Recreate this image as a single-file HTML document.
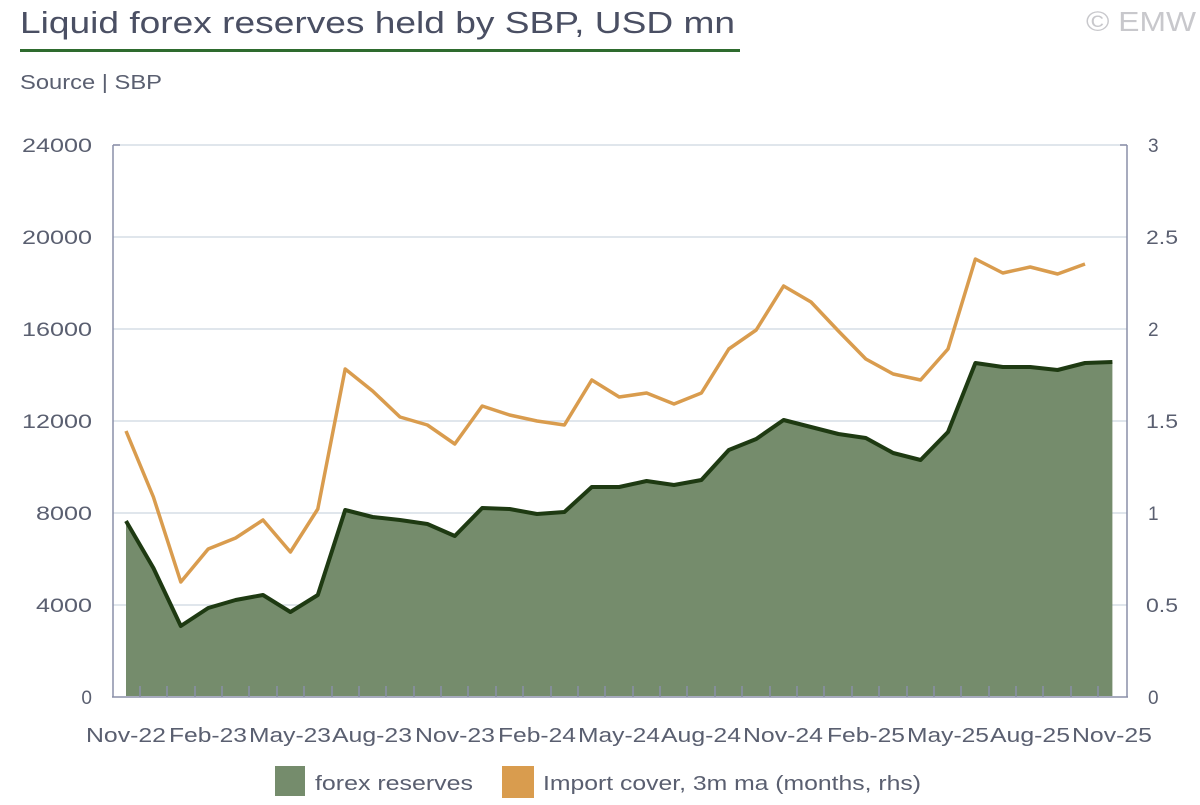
<!DOCTYPE html>
<html><head><meta charset="utf-8"><style>
body{margin:0;background:#fff;width:1200px;height:800px;overflow:hidden;font-family:"Liberation Sans",sans-serif}
</style></head><body>
<svg width="1200" height="800" xmlns="http://www.w3.org/2000/svg" font-family="Liberation Sans, sans-serif">
<text x="20" y="33" font-size="31" fill="#4a4f63" textLength="715" lengthAdjust="spacingAndGlyphs">Liquid forex reserves held by SBP, USD mn</text>
<rect x="20" y="49" width="720" height="3" fill="#2e6b2e"/>
<text x="1086" y="31" font-size="28" fill="#c8c8cc" textLength="110" lengthAdjust="spacingAndGlyphs">© EMW</text>
<text x="20" y="89" font-size="20" fill="#5a5f70" textLength="142" lengthAdjust="spacingAndGlyphs">Source | SBP</text>
<g stroke="#d5dee6" stroke-width="1.5">
<line x1="113" y1="145" x2="1127" y2="145"/><line x1="113" y1="237" x2="1127" y2="237"/>
<line x1="113" y1="329" x2="1127" y2="329"/><line x1="113" y1="421" x2="1127" y2="421"/>
<line x1="113" y1="513" x2="1127" y2="513"/><line x1="113" y1="605" x2="1127" y2="605"/>
</g>
<g font-size="19" fill="#5a5f70" text-anchor="end">
<text x="92" y="152" textLength="70" lengthAdjust="spacingAndGlyphs">24000</text><text x="92" y="244" textLength="70" lengthAdjust="spacingAndGlyphs">20000</text><text x="92" y="336" textLength="70" lengthAdjust="spacingAndGlyphs">16000</text>
<text x="92" y="428" textLength="70" lengthAdjust="spacingAndGlyphs">12000</text><text x="92" y="520" textLength="56" lengthAdjust="spacingAndGlyphs">8000</text><text x="92" y="612" textLength="56" lengthAdjust="spacingAndGlyphs">4000</text><text x="92" y="704">0</text>
</g>
<g font-size="19" fill="#5a5f70">
<text x="1148" y="152">3</text><text x="1146" y="244" textLength="32" lengthAdjust="spacingAndGlyphs">2.5</text><text x="1148" y="336">2</text>
<text x="1146" y="428" textLength="32" lengthAdjust="spacingAndGlyphs">1.5</text><text x="1148" y="520">1</text><text x="1146" y="612" textLength="32" lengthAdjust="spacingAndGlyphs">0.5</text><text x="1148" y="704">0</text>
</g>
<polygon fill="#758c6c" points="126,696 126,521 153.4,568 180.8,626 208.2,608 235.6,600 263,595 290.4,612 317.8,595 345.2,510 372.6,517 400,520 427.4,524 454.8,536 482.2,508 509.6,509 537,514 564.4,512 591.8,487 619.2,487 646.6,481 674,485 701.4,480 728.8,450 756.2,439 783.6,420 811,427 838.4,434 865.8,438 893.2,453 920.6,460 948,432 975.4,363 1002.8,367 1030.2,367 1057.6,370 1085,363 1112.4,362 1112.4,696"/>
<g stroke="#8a8fa8" stroke-width="1.5">
<line x1="113" y1="145" x2="113" y2="697"/><line x1="1127" y1="145" x2="1127" y2="697"/>
<line x1="112" y1="697" x2="1128" y2="697"/>
<line x1="113" y1="145" x2="120" y2="145"/><line x1="1120" y1="145" x2="1127" y2="145"/>
</g>
<path fill="none" stroke="#8a8fa8" stroke-width="1.5" d="M140,686V697M167,686V697M195,686V697M222,686V697M249,686V697M277,686V697M304,686V697M332,686V697M359,686V697M386,686V697M414,686V697M441,686V697M468,686V697M496,686V697M523,686V697M551,686V697M578,686V697M605,686V697M633,686V697M660,686V697M687,686V697M715,686V697M742,686V697M770,686V697M797,686V697M824,686V697M852,686V697M879,686V697M907,686V697M934,686V697M961,686V697M989,686V697M1016,686V697M1043,686V697M1071,686V697M1098,686V697"/>
<polyline fill="none" stroke="#1e3a12" stroke-width="4" stroke-linejoin="round" points="126,521 153.4,568 180.8,626 208.2,608 235.6,600 263,595 290.4,612 317.8,595 345.2,510 372.6,517 400,520 427.4,524 454.8,536 482.2,508 509.6,509 537,514 564.4,512 591.8,487 619.2,487 646.6,481 674,485 701.4,480 728.8,450 756.2,439 783.6,420 811,427 838.4,434 865.8,438 893.2,453 920.6,460 948,432 975.4,363 1002.8,367 1030.2,367 1057.6,370 1085,363 1112.4,362"/>
<polyline fill="none" stroke="#d99c4e" stroke-width="3.5" stroke-linejoin="round" points="126,431 153.4,497 180.8,582 208.2,549 235.6,538 263,520 290.4,552 317.8,509 345.2,369 372.6,391 400,417 427.4,425 454.8,444 482.2,406 509.6,415 537,421 564.4,425 591.8,380 619.2,397 646.6,393 674,404 701.4,393 728.8,349 756.2,330 783.6,286 811,302 838.4,331 865.8,359 893.2,374 920.6,380 948,349 975.4,259 1002.8,273 1030.2,267 1057.6,274 1085,264"/>
<g font-size="20" fill="#5a5f70" text-anchor="middle" lengthAdjust="spacingAndGlyphs">
<text x="126" y="742" textLength="80" lengthAdjust="spacingAndGlyphs">Nov-22</text><text x="208" y="742" textLength="78" lengthAdjust="spacingAndGlyphs">Feb-23</text><text x="290" y="742" textLength="82" lengthAdjust="spacingAndGlyphs">May-23</text>
<text x="372" y="742" textLength="80" lengthAdjust="spacingAndGlyphs">Aug-23</text><text x="455" y="742" textLength="80" lengthAdjust="spacingAndGlyphs">Nov-23</text><text x="537" y="742" textLength="78" lengthAdjust="spacingAndGlyphs">Feb-24</text>
<text x="619" y="742" textLength="82" lengthAdjust="spacingAndGlyphs">May-24</text><text x="701" y="742" textLength="80" lengthAdjust="spacingAndGlyphs">Aug-24</text><text x="783" y="742" textLength="80" lengthAdjust="spacingAndGlyphs">Nov-24</text>
<text x="866" y="742" textLength="78" lengthAdjust="spacingAndGlyphs">Feb-25</text><text x="948" y="742" textLength="82" lengthAdjust="spacingAndGlyphs">May-25</text><text x="1030" y="742" textLength="80" lengthAdjust="spacingAndGlyphs">Aug-25</text><text x="1112" y="742" textLength="80" lengthAdjust="spacingAndGlyphs">Nov-25</text>
</g>
<rect x="275" y="766" width="30" height="30" fill="#758c6c"/>
<text x="315" y="790" font-size="20" fill="#5a5f70" textLength="158" lengthAdjust="spacingAndGlyphs">forex reserves</text>
<rect x="502" y="766" width="32" height="32" fill="#d99c4e"/>
<text x="543" y="790" font-size="20" fill="#5a5f70" textLength="378" lengthAdjust="spacingAndGlyphs">Import cover, 3m ma (months, rhs)</text>
</svg>
</body></html>
